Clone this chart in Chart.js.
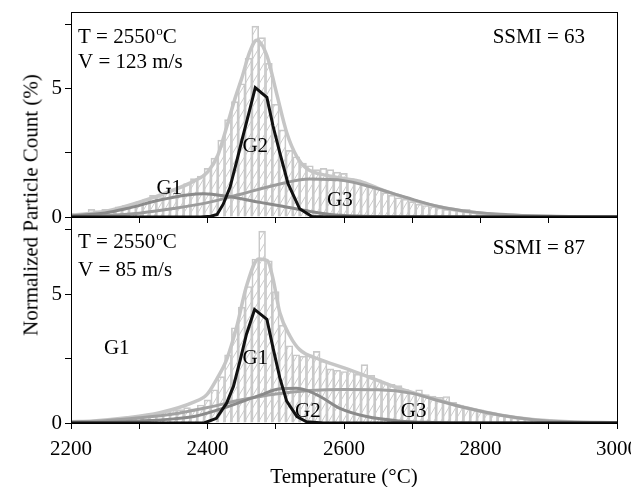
<!DOCTYPE html>
<html>
<head>
<meta charset="utf-8">
<script src="https://cdn.jsdelivr.net/npm/chart.js@4.4.1/dist/chart.umd.min.js"></script>
<style>
html, body { margin: 0; padding: 0; background: #fff; }
#wrap { position: relative; width: 631px; height: 487px; overflow: hidden; }
#cTop { position: absolute; left: 0; top: 0; z-index: 2; }
#cBot { position: absolute; left: 0; top: 217px; z-index: 1; }
#ytitle { position: absolute; left: 31px; top: 205px; transform: translate(-50%, -50%) rotate(-90deg);
  font: 21px "Liberation Serif"; color: #000; white-space: nowrap; z-index: 3; }
</style>
</head>
<body>
<div id="wrap">
  <canvas id="cTop" width="631" height="240"></canvas>
  <canvas id="cBot" width="631" height="270"></canvas>
  <div id="ytitle">Normalized Particle Count (%)</div>
</div>
<script>
// histogram bin centres (°C)
var tempBins = [2200,2210,2220,2230,2240,2250,2260,2270,2280,2290,
  2300,2310,2320,2330,2340,2350,2360,2370,2380,2390,
  2400,2410,2420,2430,2440,2450,2460,2470,2480,2490,
  2500,2510,2520,2530,2540,2550,2560,2570,2580,2590,
  2600,2610,2620,2630,2640,2650,2660,2670,2680,2690,
  2700,2710,2720,2730,2740,2750,2760,2770,2780,2790,
  2800,2810,2820,2830,2840,2850,2860,2870,2880,2890,
  2900,2910,2920];

// V = 123 m/s
var countsTop = [0.15,0.08,0.12,0.30,0.25,0.30,0.30,0.40,0.45,0.50,
  0.60,0.70,0.85,0.80,0.95,1.10,1.20,1.30,1.50,1.60,
  1.90,2.30,3.00,3.80,4.50,5.20,6.20,7.45,7.00,6.00,
  4.40,3.40,2.60,2.35,2.10,2.00,1.85,1.90,1.85,1.75,
  1.70,1.50,1.45,1.30,1.20,1.10,0.95,0.85,0.75,0.70,
  0.60,0.50,0.45,0.40,0.35,0.30,0.30,0.28,0.30,0.22,
  0.12,0.10,0.10,0.05,0.08,0.10,0.06,0.03,0.04,0.02,
  0.02,0.01,0.01];

// V = 85 m/s
var countsBot = [0.05,0.06,0.08,0.06,0.10,0.10,0.13,0.15,0.18,0.22,
  0.25,0.30,0.32,0.38,0.45,0.50,0.52,0.60,0.55,0.70,
  0.90,1.29,1.80,2.65,3.70,4.50,5.30,6.37,7.45,6.30,
  5.10,3.80,3.00,2.65,2.60,2.65,2.78,2.40,2.10,2.05,
  2.00,2.05,1.90,2.27,1.85,1.68,1.56,1.50,1.45,1.30,
  1.20,1.29,1.10,1.05,1.00,1.03,0.80,0.70,0.62,0.55,
  0.51,0.35,0.32,0.30,0.25,0.20,0.20,0.18,0.15,0.15,
  0.12,0.10,0.05];

// fitted curves, [T, value]
var sumTop = [[2200,0.07],[2250,0.22],[2300,0.58],[2350,1.05],[2380,1.4],[2400,1.75],[2415,2.4],[2428,3.5],
  [2440,4.6],[2450,5.4],[2462,6.45],[2472,6.9],[2487,6.3],[2501,4.85],[2516,3.3],[2531,2.35],[2545,1.9],
  [2575,1.62],[2600,1.5],[2625,1.38],[2650,1.12],[2675,0.88],[2700,0.66],[2750,0.34],[2800,0.15],
  [2850,0.06],[2900,0.02],[3000,0]];
var g1Top = [[2200,0.05],[2250,0.16],[2280,0.32],[2330,0.66],[2370,0.86],[2395,0.91],[2430,0.8],
  [2477,0.57],[2510,0.42],[2550,0.22],[2580,0.1],[2620,0.04],[2700,0.01],[3000,0]];
var g2Top = [[2200,0],[2390,0],[2405,0.03],[2414,0.1],[2423,0.5],[2433,1.16],[2443,2.2],[2450,2.95],
  [2462,4.2],[2470,5.05],[2487,4.67],[2496,3.55],[2506,2.5],[2518,1.3],[2535,0.32],[2553,0.02],
  [2580,0],[3000,0]];
var g3Top = [[2200,0.02],[2250,0.06],[2300,0.15],[2350,0.33],[2400,0.56],[2450,0.9],[2500,1.25],
  [2550,1.48],[2600,1.42],[2640,1.17],[2690,0.77],[2740,0.4],[2790,0.19],[2840,0.09],[2890,0.04],
  [2950,0.01],[3000,0]];

var sumBot = [[2200,0.05],[2233,0.08],[2282,0.2],[2330,0.4],[2379,0.8],[2399,1.1],[2413,1.68],[2428,2.46],
  [2443,3.76],[2457,5.3],[2475,6.37],[2488,6.3],[2496,5.6],[2506,4.28],[2521,3.37],[2535,2.85],
  [2565,2.46],[2600,2.14],[2633,1.82],[2682,1.33],[2731,0.95],[2780,0.58],[2830,0.3],[2880,0.13],
  [2930,0.05],[3000,0.01]];
var g1Bot = [[2200,0],[2395,0],[2413,0.18],[2428,0.77],[2438,1.42],[2448,2.45],[2457,3.44],[2469,4.41],
  [2487,4.03],[2496,2.92],[2506,1.75],[2516,0.85],[2531,0.25],[2545,0.05],[2570,0],[3000,0]];
var g2Bot = [[2200,0.01],[2250,0.03],[2300,0.08],[2350,0.16],[2380,0.25],[2428,0.62],[2477,1.08],
  [2506,1.33],[2530,1.35],[2550,1.22],[2565,1.03],[2594,0.57],[2633,0.25],[2680,0.08],[2730,0.02],
  [2800,0],[3000,0]];
var g3Bot = [[2200,0.04],[2250,0.09],[2300,0.2],[2350,0.35],[2400,0.6],[2450,0.9],[2500,1.13],
  [2550,1.26],[2600,1.3],[2650,1.29],[2700,1.15],[2730,0.93],[2780,0.58],[2830,0.3],[2880,0.12],
  [2930,0.04],[3000,0.01]];

var xTickLabels = [2200, 2400, 2600, 2800, 3000];
var yTickLabels = [0, 5];

// curve labels [text, T, value]
var notesTop = [["G1", 2344, 1.17], ["G2", 2470, 2.81], ["G3", 2594, 0.70]];
var notesBot = [["G1", 2267, 2.95], ["G1", 2470, 2.56], ["G2", 2547, 0.50], ["G3", 2702, 0.50]];

var serif = '"Liberation Serif", "Times New Roman", serif';

function hatch() {
  var c = document.createElement('canvas');
  c.width = 7; c.height = 12;
  var g = c.getContext('2d');
  g.strokeStyle = '#cbcbcb';
  g.lineWidth = 1;
  for (var k = -1; k <= 1; k++) {
    g.beginPath();
    g.moveTo(k * 7, 12);
    g.lineTo((k + 1) * 7, 0);
    g.stroke();
  }
  return g.createPattern(c, 'repeat');
}

function pts(a) { return a.map(function (p) { return {x: p[0], y: p[1]}; }); }

var frame = {
  id: 'frame',
  afterDraw: function (c) {
    var a = c.chartArea, g = c.ctx;
    g.save();
    g.strokeStyle = '#000';
    g.lineWidth = 1;
    g.strokeRect(Math.round(a.left) + 0.5, Math.round(a.top) + 0.5,
      Math.round(a.right - a.left), Math.round(a.bottom - a.top));
    g.restore();
  }
};

var notes = {
  id: 'notes',
  afterDatasetsDraw: function (c, args, o) {
    var g = c.ctx, a = c.chartArea, sx = c.scales.x, sy = c.scales.y;
    g.save();
    g.fillStyle = '#000';
    g.font = '21px ' + serif;
    g.textBaseline = 'alphabetic';
    g.textAlign = 'center';
    o.labels.forEach(function (n) {
      g.fillText(n[0], sx.getPixelForValue(n[1]), sy.getPixelForValue(n[2]) + 7);
    });
    // temperature / velocity
    g.textAlign = 'left';
    var x0 = a.left + 7, y0 = a.top + 31;
    var s1 = 'T = 2550';
    g.fillText(s1, x0, y0);
    var w = g.measureText(s1).width;
    g.font = '13px ' + serif;
    g.fillText('o', x0 + w + 1, y0 - 8);
    var w2 = g.measureText('o').width;
    g.font = '21px ' + serif;
    g.fillText('C', x0 + w + w2 + 1, y0);
    g.fillText(o.speed, x0, a.top + o.vLine);
    g.textAlign = 'right';
    g.fillText(o.ssmi, a.right - 32, a.top + o.sLine);
    g.restore();
  }
};

function panel(id, counts, sum, ga, gb, gc, cfg) {
  var xTicks = {
    stepSize: 100, autoSkip: false, maxRotation: 0,
    color: '#000', padding: 8, font: {family: serif, size: 21},
    callback: function (v) { return xTickLabels.indexOf(v) >= 0 ? String(v) : ''; }
  };
  if (!cfg.xLabels) xTicks.display = false;
  return new Chart(document.getElementById(id), {
    type: 'bar',
    data: {
      datasets: [
        {type: 'line', data: pts(gc[1]), borderColor: gc[0], borderWidth: 3, tension: 0,
          pointRadius: 0, fill: false, order: 1},
        {type: 'line', data: pts(ga[1]), borderColor: ga[0], borderWidth: 3, cubicInterpolationMode: 'monotone',
          pointRadius: 0, fill: false, order: 2},
        {type: 'line', data: pts(gb[1]), borderColor: gb[0], borderWidth: 3, cubicInterpolationMode: 'monotone',
          pointRadius: 0, fill: false, order: 3},
        {type: 'line', data: pts(sum), borderColor: '#c6c6c6', borderWidth: 3.5, cubicInterpolationMode: 'monotone',
          pointRadius: 0, fill: false, order: 4},
        {type: 'bar', data: tempBins.map(function (t, i) { return {x: t, y: counts[i]}; }),
          backgroundColor: hatch(), borderColor: '#c8c8c8', borderWidth: 1,
          barPercentage: 1, categoryPercentage: 1, order: 5}
      ]
    },
    options: {
      responsive: false, animation: false,
      layout: {padding: {top: cfg.padTop, right: 14, left: 0, bottom: 0}},
      plugins: {
        legend: {display: false}, tooltip: {enabled: false},
        notes: {labels: cfg.labels, speed: cfg.speed, ssmi: cfg.ssmi, vLine: cfg.vLine, sLine: cfg.sLine}
      },
      scales: {
        x: {
          type: 'linear', min: 2200, max: 3000, offset: false,
          afterFit: function (s) { s.height = cfg.xHeight; s.paddingLeft = 0; s.paddingRight = 0; },
          ticks: xTicks,
          grid: {drawOnChartArea: false, offset: false, tickLength: 6, tickColor: '#000'},
          border: {color: '#000', width: 1},
          title: cfg.xLabels ? {display: true, text: 'Temperature (°C)', color: '#000',
            font: {family: serif, size: 21, lineHeight: 0.9}, padding: 0} : {display: false}
        },
        y: {
          min: 0, max: 8,
          afterFit: function (s) { s.width = 71; s.paddingTop = 0; s.paddingBottom = 0; },
          ticks: {stepSize: 2.5, includeBounds: false, autoSkip: false, color: '#000', padding: 3,
            font: {family: serif, size: 21},
            callback: function (v) { return yTickLabels.indexOf(v) >= 0 ? String(v) : ''; }},
          grid: {drawOnChartArea: false, tickLength: 6, tickColor: '#000'},
          border: {color: '#000', width: 1}
        }
      }
    },
    plugins: [frame, notes]
  });
}

panel('cTop', countsTop, sumTop, ['#8a8a8a', g1Top], ['#9c9c9c', g3Top], ['#111', g2Top],
  {padTop: 12, xHeight: 23, xLabels: false, labels: notesTop, speed: 'V = 123 m/s', ssmi: 'SSMI = 63',
   vLine: 56, sLine: 31});
panel('cBot', countsBot, sumBot, ['#8a8a8a', g2Bot], ['#a2a2a2', g3Bot], ['#111', g1Bot],
  {padTop: 0, xHeight: 64, xLabels: true, labels: notesBot, speed: 'V = 85 m/s', ssmi: 'SSMI = 87',
   vLine: 59, sLine: 37});
</script>
</body>
</html>
